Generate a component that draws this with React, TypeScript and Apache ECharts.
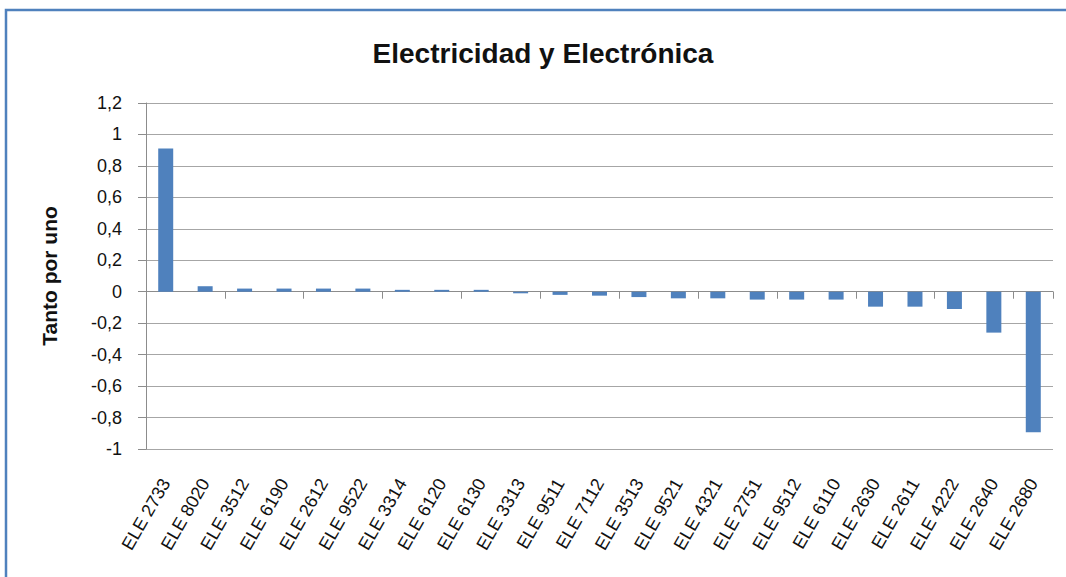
import React, { useEffect, useRef } from "react";
import * as echarts from "echarts";

const categories = [
  "ELE 2733", "ELE 8020", "ELE 3512", "ELE 6190", "ELE 2612", "ELE 9522",
  "ELE 3314", "ELE 6120", "ELE 6130", "ELE 3313", "ELE 9511", "ELE 7112",
  "ELE 3513", "ELE 9521", "ELE 4321", "ELE 2751", "ELE 9512", "ELE 6110",
  "ELE 2630", "ELE 2611", "ELE 4222", "ELE 2640", "ELE 2680",
];

const values = [
  0.91, 0.035, 0.02, 0.02, 0.02, 0.02,
  0.012, 0.012, 0.012, -0.01, -0.02, -0.025,
  -0.034, -0.042, -0.042, -0.05, -0.05, -0.05,
  -0.095, -0.095, -0.11, -0.26, -0.894,
];

const titleText = "Electricidad y Electrónica";
const yAxisName = "Tanto por uno";

const FONT = "'Liberation Sans', Arial, sans-serif";

export default function App() {
  const ref = useRef<HTMLDivElement>(null);

  useEffect(() => {
    if (!ref.current) return;
    const chart = echarts.init(ref.current, null, { renderer: "svg" });
    chart.setOption({
      animation: false,
      backgroundColor: "#ffffff",
      textStyle: { fontFamily: FONT },
      grid: { left: 146, right: 13, top: 103, bottom: 128, containLabel: false },
      graphic: [
        {
          type: "rect",
          shape: { x: 6, y: 10, width: 1100, height: 620 },
          style: { fill: "none", stroke: "#4f81bd", lineWidth: 2.5 },
          silent: true,
        },
        {
          type: "text",
          x: 543,
          y: 53,
          style: {
            text: titleText,
            align: "center",
            verticalAlign: "middle",
            font: `bold 28px ${FONT}`,
            fill: "#111111",
          },
        },
      ],
      xAxis: [
        {
          type: "category",
          data: categories,
          position: "bottom",
          axisLine: { show: true, onZero: true, lineStyle: { color: "#8c8c8c", width: 1 } },
          axisTick: { show: true, length: 7, alignWithLabel: false, lineStyle: { color: "#8c8c8c" } },
          axisLabel: { show: false },
          splitLine: { show: false },
        },
        {
          type: "category",
          data: categories,
          position: "bottom",
          axisLine: { show: false, onZero: false },
          axisTick: { show: false },
          axisLabel: {
            show: true,
            interval: 0,
            rotate: 60,
            margin: 31,
            fontSize: 18,
            color: "#111111",
            fontFamily: FONT,
          },
          splitLine: { show: false },
        },
      ],
      yAxis: {
        type: "value",
        min: -1,
        max: 1.2,
        interval: 0.2,
        name: yAxisName,
        nameLocation: "middle",
        nameRotate: 90,
        nameGap: 86,
        nameTextStyle: { fontSize: 21, fontWeight: "bold", color: "#111111", fontFamily: FONT },
        axisLine: { show: true, lineStyle: { color: "#8c8c8c", width: 1 } },
        axisTick: { show: true, length: 8, lineStyle: { color: "#8c8c8c" } },
        axisLabel: {
          margin: 24,
          fontSize: 18,
          color: "#111111",
          fontFamily: FONT,
          formatter: (v: number) => String(Math.round(v * 10) / 10).replace(".", ","),
        },
        splitLine: { show: true, lineStyle: { color: "#a6a6a6", width: 1 } },
      },
      series: [
        {
          type: "bar",
          xAxisIndex: 0,
          data: values,
          barWidth: 15,
          itemStyle: { color: "#4f81bd" },
        },
      ],
    });
    return () => chart.dispose();
  }, []);

  return (
    <div
      ref={ref}
      style={{ position: "absolute", left: 0, top: 0, width: 1066, height: 577, background: "#fff" }}
    />
  );
}
